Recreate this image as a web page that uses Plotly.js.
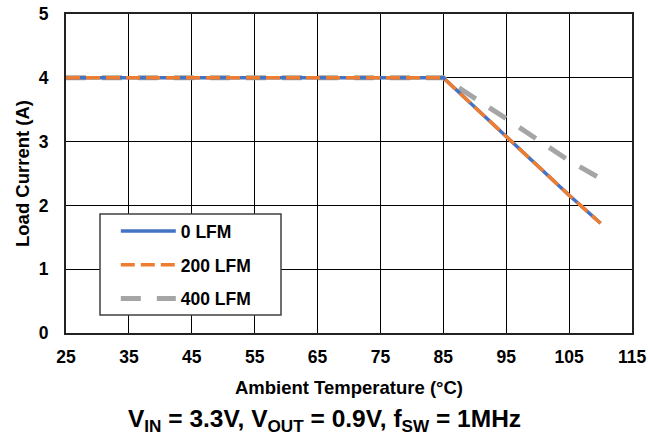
<!DOCTYPE html>
<html>
<head>
<meta charset="utf-8">
<script src="https://cdn.plot.ly/plotly-3.0.1.min.js"></script>
<style>html,body{margin:0;padding:0;background:#fff;}#chart{width:648px;height:435px;}</style>
</head>
<body>
<div id="chart"></div>
<script>
// Ambient temperature (°C)
const temps = [25, 85, 95, 105, 110];
// Load current (A) for each airflow
const lfm0   = [4, 4, 3.08, 2.16, 1.72];
const lfm200 = [4, 4, 3.08, 2.16, 1.72];
const lfm400 = [4, 4, 3.36, 2.70, 2.42];
const seriesNames = ['0 LFM', '200 LFM', '400 LFM'];
const xTicks = [25, 35, 45, 55, 65, 75, 85, 95, 105, 115];
const yTicks = [0, 1, 2, 3, 4, 5];

const FONT = 'Liberation Sans, Arial, sans-serif';

const traces = [
  {x: temps, y: lfm400, name: seriesNames[2], mode: 'lines', legendgroup: 'g3', legendrank: 3,
   line: {color: '#A5A5A5', width: 5, dash: '20px,16px'}},
  {x: temps, y: lfm0, name: seriesNames[0], mode: 'lines', legendgroup: 'g1', legendrank: 1,
   line: {color: '#4472C4', width: 3.5}},
  {x: temps, y: lfm200, name: seriesNames[1], mode: 'lines', legendgroup: 'g2', legendrank: 2,
   line: {color: '#ED7D31', width: 3.5, dash: '14px,6px'}}
];

const layout = {
  width: 648, height: 435,
  margin: {l: 66, r: 16, t: 14, b: 102},
  paper_bgcolor: '#fff', plot_bgcolor: '#fff',
  font: {family: FONT, color: '#000', size: 17.5},
  showlegend: true,
  legend: {
    x: 0.088, y: 0.376, xanchor: 'left', yanchor: 'top',
    bgcolor: 'rgba(0,0,0,0)', borderwidth: 0,
    font: {family: FONT, size: 17.5, color: '#000', weight: 'bold'},
    traceorder: 'grouped', tracegroupgap: 8, itemwidth: 55
  },
  shapes: [{
    type: 'rect', xref: 'paper', yref: 'paper', layer: 'above',
    x0: (100 - 66) / 566, x1: (281 - 66) / 566,
    y0: (333 - 315) / 319, y1: (333 - 214) / 319,
    fillcolor: '#fff', line: {color: '#404040', width: 1.5}
  }],
  xaxis: {
    range: [25, 115], tickvals: xTicks, ticktext: xTicks.map(String),
    showgrid: true, gridcolor: '#000', gridwidth: 1.2,
    showline: true, linecolor: '#222', linewidth: 2, mirror: true,
    ticks: '', zeroline: false, ticklabelstandoff: 7,
    tickfont: {family: FONT, size: 17.5, weight: 'bold', color: '#000'},
    title: {text: 'Ambient Temperature (°C)', standoff: 15,
            font: {family: FONT, size: 18.5, weight: 'bold', color: '#000'}}
  },
  yaxis: {
    range: [0, 5], tickvals: yTicks, ticktext: yTicks.map(String),
    showgrid: true, gridcolor: '#000', gridwidth: 1.2,
    showline: true, linecolor: '#222', linewidth: 2, mirror: true,
    ticks: '', zeroline: false, ticklabelstandoff: 12,
    tickfont: {family: FONT, size: 17.5, weight: 'bold', color: '#000'},
    title: {text: 'Load Current (A)', standoff: 4,
            font: {family: FONT, size: 18.5, weight: 'bold', color: '#000'}}
  },
  annotations: [{
    xref: 'paper', yref: 'paper', x: 0.456, y: -0.273,
    xanchor: 'center', yanchor: 'middle', showarrow: false,
    text: 'V<sub>IN</sub> = 3.3V, V<sub>OUT</sub> = 0.9V, f<sub>SW</sub> = 1MHz',
    font: {family: FONT, size: 24.5, weight: 'bold', color: '#000'}
  }]
};

Plotly.newPlot('chart', traces, layout, {displayModeBar: false, staticPlot: true});
</script>
</body>
</html>
